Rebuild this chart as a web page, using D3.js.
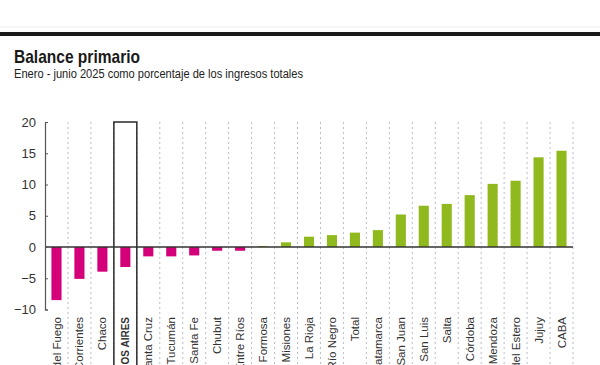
<html>
<script src='https://d3js.org/d3.v7.min.js'></script>
<style>
body {margin: 0; background: #fff;}
text {font-family: "Liberation Sans", Arial, sans-serif;}
</style>
<body onload='init()'>
<svg width=600 height=365></svg>
<script>
// datos
var provincias = ["Tierra del Fuego","Corrientes","Chaco","BUENOS AIRES","Santa Cruz","Tucumán","Santa Fe",
  "Chubut","Entre Ríos","Formosa","Misiones","La Rioja","Río Negro","Total","Catamarca","San Juan",
  "San Luis","Salta","Córdoba","Mendoza","Santiago del Estero","Jujuy","CABA"];
var balance = [-8.5,-5.1,-3.95,-3.2,-1.5,-1.5,-1.35,-0.6,-0.6,0.15,0.75,1.65,1.9,2.3,2.7,5.2,
  6.6,6.9,8.3,10.1,10.6,14.35,15.4];
var yTicks = [-10,-5,0,5,10,15,20];
var destacada = "BUENOS AIRES";

function init() {
  var svg = d3.select('svg');
  var data = provincias.map(function(p, i) { return {name: p, value: balance[i]}; });

  var left = 45, right = 573, top = 122, bottom = 309.5;
  var x = d3.scaleBand().domain(provincias).range([left, right]).paddingInner(0.56).paddingOuter(0.28);
  var y = d3.scaleLinear().domain([-10, 20]).range([bottom, top]);
  var step = x.step();

  // lineas de arriba
  svg.append('line').attr('x1', 0).attr('x2', 600).attr('y1', 27).attr('y2', 27)
    .attr('stroke', '#eee').attr('stroke-width', 1);
  svg.append('line').attr('x1', 0).attr('x2', 600).attr('y1', 34).attr('y2', 34)
    .attr('stroke', '#1a1a1a').attr('stroke-width', 4);

  // titulos (angostados para parecerse a la fuente condensada)
  svg.append('text').attr('x', 14).attr('y', 63)
    .style('font-weight', 'bold').style('font-size', '19px').attr('fill', '#1a1a1a')
    .attr('textLength', 126).attr('lengthAdjust', 'spacingAndGlyphs')
    .text('Balance primario');
  svg.append('text').attr('x', 14).attr('y', 78)
    .style('font-size', '12.5px').attr('fill', '#222')
    .attr('textLength', 289).attr('lengthAdjust', 'spacingAndGlyphs')
    .text('Enero - junio 2025 como porcentaje de los ingresos totales');

  // separadores punteados
  svg.append('g').selectAll('line')
    .data(provincias)
    .enter().append('line')
    .attr('x1', function(d) { return x(d) - x.paddingOuter() * step + step; })
    .attr('x2', function(d) { return x(d) - x.paddingOuter() * step + step; })
    .attr('y1', top).attr('y2', 365)
    .attr('stroke', '#b9bccb').attr('stroke-width', 1).attr('stroke-dasharray', '2,3');

  // barras
  svg.append('g').selectAll('rect')
    .data(data)
    .enter().append('rect')
    .attr('x', function(d) { return x(d.name); })
    .attr('width', x.bandwidth())
    .attr('y', function(d) { return y(Math.max(0, d.value)); })
    .attr('height', function(d) { return Math.abs(y(d.value) - y(0)); })
    .attr('fill', function(d) { return d.value < 0 ? '#d3007a' : '#8fb91c'; });

  // recuadro destacado
  var bx = x(destacada) - x.paddingOuter() * step;
  svg.append('rect').attr('x', bx).attr('y', y(20)).attr('width', step).attr('height', 300)
    .attr('fill', 'none').attr('stroke', '#2a2a2a').attr('stroke-width', 1.5);

  // linea de cero
  svg.append('line').attr('x1', left).attr('x2', right).attr('y1', y(0)).attr('y2', y(0))
    .attr('stroke', '#333').attr('stroke-width', 1.5);

  // eje y
  var ax = svg.append('g').attr('transform', 'translate(' + left + ',0)')
    .call(d3.axisLeft(y).tickValues(yTicks).tickSize(-3).tickPadding(9));
  ax.select('.domain').attr('stroke', '#555').attr('stroke-width', 1.2);
  ax.selectAll('.tick line').attr('stroke', '#555');
  ax.selectAll('text').style('font-size', '13px').attr('fill', '#333');

  // etiquetas
  svg.append('g').selectAll('text')
    .data(provincias)
    .enter().append('text')
    .attr('transform', function(d) { return 'translate(' + (x(d) + x.bandwidth() / 2) + ',317) rotate(-90)'; })
    .attr('dy', '0.35em')
    .attr('text-anchor', 'end')
    .style('font-size', function(d) { return d === destacada ? '10px' : '11.5px'; })
    .style('font-weight', function(d) { return d === destacada ? 'bold' : 'normal'; })
    .attr('fill', '#333')
    .text(function(d) { return d; });
}
</script>
</body>
</html>
